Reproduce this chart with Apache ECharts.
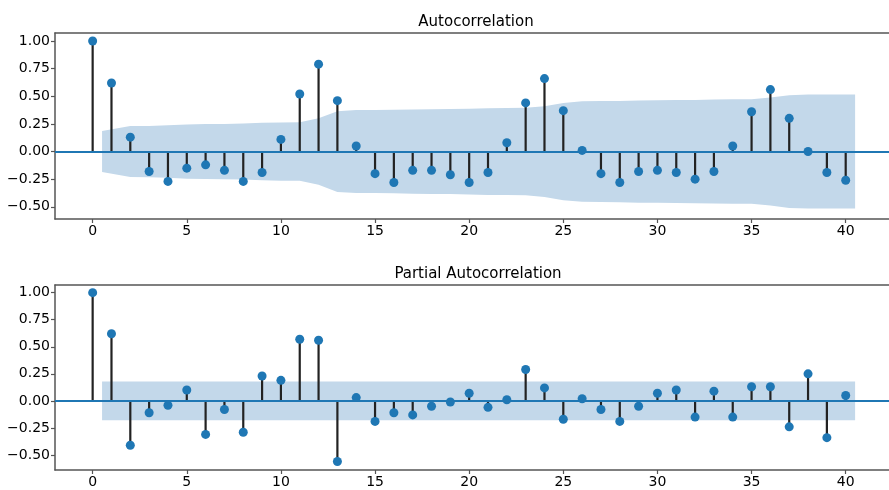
<!DOCTYPE html>
<html><head><meta charset="utf-8">
<script src="https://cdn.jsdelivr.net/npm/echarts@6/dist/echarts.min.js"></script>
<style>html,body{margin:0;padding:0;background:#fff}#c{width:889px;height:490px}</style>
</head><body><div id="c"></div>
<script>
const lags = [0,1,2,3,4,5,6,7,8,9,10,11,12,13,14,15,16,17,18,19,20,21,22,23,24,25,26,27,28,29,30,31,32,33,34,35,36,37,38,39,40];
const acfValues = [1.00,0.62,0.13,-0.18,-0.27,-0.15,-0.12,-0.17,-0.27,-0.19,0.11,0.52,0.79,0.46,0.05,-0.20,-0.28,-0.17,-0.17,-0.21,-0.28,-0.19,0.08,0.44,0.66,0.37,0.01,-0.20,-0.28,-0.18,-0.17,-0.19,-0.25,-0.18,0.05,0.36,0.56,0.30,-0.00,-0.19,-0.26];
const pacfValues = [1.00,0.62,-0.41,-0.11,-0.04,0.10,-0.31,-0.08,-0.29,0.23,0.19,0.57,0.56,-0.56,0.03,-0.19,-0.11,-0.13,-0.05,-0.01,0.07,-0.06,0.01,0.29,0.12,-0.17,0.02,-0.08,-0.19,-0.05,0.07,0.10,-0.15,0.09,-0.15,0.13,0.13,-0.24,0.25,-0.34,0.05];
const acfBandLags = [0.5,2,3,4,5,6,7,8,9,10,11,12,13,14,15,16,17,18,19,20,21,22,23,24,25,26,27,28,29,30,31,32,33,34,35,36,37,38,39,40.5];
const acfBand = [0.185,0.23,0.232,0.237,0.245,0.248,0.25,0.253,0.26,0.263,0.265,0.30,0.365,0.375,0.376,0.377,0.381,0.383,0.385,0.388,0.392,0.394,0.395,0.41,0.44,0.455,0.457,0.458,0.462,0.463,0.465,0.467,0.47,0.472,0.473,0.488,0.51,0.515,0.515,0.516];
const pacfBandLags = [0.5,40.5];
const pacfBand = [0.178,0.178];
const xTicks = [0,5,10,15,20,25,30,35,40];
const yTicks = [-0.5,-0.25,0,0.25,0.5,0.75,1.0];
const titles = ['Autocorrelation','Partial Autocorrelation'];

const FONT = 'DejaVu Sans';
const C0 = '#1f77b4';
const BAND = '#c3d8ea';
const SPINE = '#555';
const chart = echarts.init(document.getElementById('c'), null, {renderer:'canvas'});

function fmt(v){ return (v < 0 ? '\u2212' : '') + Math.abs(v).toFixed(2); }

const grids = [
  {left:55, top:33, height:186, right:0},
  {left:55, top:285, height:185, right:0}
];
const xRange = [-2, 42.3];
const yRanges = [[-0.61,1.072],[-0.639,1.071]];

function xAxisFor(i){
  return {type:'value', gridIndex:i, min:xRange[0], max:xRange[1], position:'bottom',
    axisLine:{show:true, onZero:false, lineStyle:{color:SPINE, width:1.5}},
    axisTick:{show:true, customValues:xTicks, length:4, lineStyle:{color:SPINE, width:1.2}},
    axisLabel:{show:true, customValues:xTicks, color:'#000', fontSize:14, fontFamily:FONT, margin:5},
    splitLine:{show:false}};
}
function xTopFor(i){
  return {type:'value', gridIndex:i, min:xRange[0], max:xRange[1], position:'top',
    axisLine:{show:true, onZero:false, lineStyle:{color:SPINE, width:1.5}},
    axisTick:{show:false}, axisLabel:{show:false}, splitLine:{show:false}};
}
function yAxisFor(i){
  return {type:'value', gridIndex:i, min:yRanges[i][0], max:yRanges[i][1],
    axisLine:{show:true, onZero:false, lineStyle:{color:SPINE, width:1.5}},
    axisTick:{show:true, customValues:yTicks, length:4, lineStyle:{color:SPINE, width:1.2}},
    axisLabel:{show:true, customValues:yTicks, color:'#000', fontSize:14, fontFamily:FONT, margin:5, formatter:fmt},
    splitLine:{show:false}};
}

function seriesFor(i, values, bandLags, band){
  const pts = lags.map((l,k)=>[l, values[k]]);
  return [
    {type:'line', xAxisIndex:i, yAxisIndex:i, data:bandLags.map((x,k)=>[x, band[k]]), symbol:'none', silent:true,
      lineStyle:{width:0}, areaStyle:{color:BAND, opacity:1, origin:0}, z:1},
    {type:'line', xAxisIndex:i, yAxisIndex:i, data:bandLags.map((x,k)=>[x, -band[k]]), symbol:'none', silent:true,
      lineStyle:{width:0}, areaStyle:{color:BAND, opacity:1, origin:0}, z:1},
    {type:'custom', xAxisIndex:i, yAxisIndex:i, data:pts, z:2, silent:true,
      renderItem:(params, api)=>{
        const p0 = api.coord([api.value(0), 0]);
        const p1 = api.coord([api.value(0), api.value(1)]);
        return {type:'line', shape:{x1:p0[0], y1:p0[1], x2:p1[0], y2:p1[1]}, style:{stroke:'#222', lineWidth:2.2}};
      }},
    {type:'scatter', xAxisIndex:i, yAxisIndex:i, data:pts, symbol:'circle', symbolSize:9, itemStyle:{color:C0, opacity:1}, z:4,
      markLine:{silent:true, symbol:'none', label:{show:false}, lineStyle:{color:C0, width:2, type:'solid'}, data:[{yAxis:0}], z:3}}
  ];
}

chart.setOption({
  animation:false,
  backgroundColor:'#fff',
  title:[
    {text:titles[0], left:471, top:10, textAlign:'center', textStyle:{fontSize:15, fontWeight:'normal', color:'#000', fontFamily:FONT}},
    {text:titles[1], left:473, top:262, textAlign:'center', textStyle:{fontSize:15, fontWeight:'normal', color:'#000', fontFamily:FONT}}
  ],
  grid:grids.map(g=>Object.assign({show:false}, g)),
  xAxis:[xAxisFor(0), xAxisFor(1), xTopFor(0), xTopFor(1)],
  yAxis:[yAxisFor(0), yAxisFor(1)],
  series:[].concat(seriesFor(0, acfValues, acfBandLags, acfBand), seriesFor(1, pacfValues, pacfBandLags, pacfBand))
});
</script></body></html>
